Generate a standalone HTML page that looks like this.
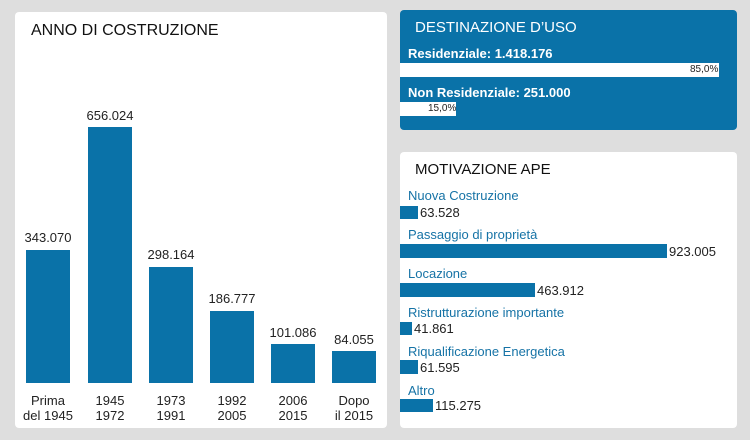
<!DOCTYPE html>
<html><head><meta charset="utf-8"><style>
body{margin:0;width:750px;height:440px;background:#dedede;position:relative;overflow:hidden;font-family:"Liberation Sans",sans-serif;}
.p{position:absolute;border-radius:4px;}
.t{position:absolute;white-space:nowrap;}
.b{position:absolute;background:#0a72a8;}
.v{position:absolute;font-size:13px;color:#222;text-align:center;width:70px;}
.c{position:absolute;font-size:13px;color:#222;text-align:center;width:70px;line-height:15px;top:393px;}
.l{position:absolute;left:408px;font-size:13px;color:#1673a6;}
.n{position:absolute;font-size:13px;color:#222;}
</style></head><body>
<div class="p" style="left:15px;top:12px;width:372px;height:416px;background:#fff"></div>
<div class="t" style="left:31px;top:22px;font-size:16px;color:#111">ANNO DI COSTRUZIONE</div>
<div class="b" style="left:26px;top:250px;width:44px;height:133px"></div>
<div class="b" style="left:88px;top:127px;width:44px;height:256px"></div>
<div class="b" style="left:149px;top:267px;width:44px;height:116px"></div>
<div class="b" style="left:210px;top:311px;width:44px;height:72px"></div>
<div class="b" style="left:271px;top:344px;width:44px;height:39px"></div>
<div class="b" style="left:332px;top:351px;width:44px;height:32px"></div>
<div class="v" style="left:13px;top:230px">343.070</div>
<div class="v" style="left:75px;top:108px">656.024</div>
<div class="v" style="left:136px;top:247px">298.164</div>
<div class="v" style="left:197px;top:291px">186.777</div>
<div class="v" style="left:258px;top:325px">101.086</div>
<div class="v" style="left:319px;top:332px">84.055</div>
<div class="c" style="left:13px">Prima<br>del 1945</div>
<div class="c" style="left:75px">1945<br>1972</div>
<div class="c" style="left:136px">1973<br>1991</div>
<div class="c" style="left:197px">1992<br>2005</div>
<div class="c" style="left:258px">2006<br>2015</div>
<div class="c" style="left:319px">Dopo<br>il 2015</div>

<div class="p" style="left:400px;top:10px;width:337px;height:120px;background:#0a72a8"></div>
<div class="t" style="left:415px;top:19px;font-size:15px;color:#fff">DESTINAZIONE D’USO</div>
<div class="t" style="left:408px;top:46px;font-size:13px;color:#fff;font-weight:bold">Residenziale: 1.418.176</div>
<div style="position:absolute;left:400px;top:63px;width:319px;height:14px;background:#fff"></div>
<div class="t" style="left:690px;top:64px;font-size:10px;color:#222">85,0%</div>
<div class="t" style="left:408px;top:85px;font-size:13px;color:#fff;font-weight:bold">Non Residenziale: 251.000</div>
<div style="position:absolute;left:400px;top:102px;width:56px;height:14px;background:#fff"></div>
<div class="t" style="left:428px;top:103px;font-size:10px;color:#222">15,0%</div>

<div class="p" style="left:400px;top:152px;width:337px;height:276px;background:#fff"></div>
<div class="t" style="left:415px;top:161px;font-size:15px;color:#111">MOTIVAZIONE APE</div>
<div class="l" style="top:188px">Nuova Costruzione</div>
<div class="b" style="left:400px;top:206px;width:18px;height:13px"></div><div class="n" style="left:420px;top:205px">63.528</div>
<div class="l" style="top:227px">Passaggio di proprietà</div>
<div class="b" style="left:400px;top:244px;width:267px;height:14px"></div><div class="n" style="left:669px;top:244px">923.005</div>
<div class="l" style="top:266px">Locazione</div>
<div class="b" style="left:400px;top:283px;width:135px;height:14px"></div><div class="n" style="left:537px;top:283px">463.912</div>
<div class="l" style="top:305px">Ristrutturazione importante</div>
<div class="b" style="left:400px;top:322px;width:12px;height:13px"></div><div class="n" style="left:414px;top:321px">41.861</div>
<div class="l" style="top:344px">Riqualificazione Energetica</div>
<div class="b" style="left:400px;top:360px;width:18px;height:14px"></div><div class="n" style="left:420px;top:360px">61.595</div>
<div class="l" style="top:383px">Altro</div>
<div class="b" style="left:400px;top:399px;width:33px;height:13px"></div><div class="n" style="left:435px;top:398px">115.275</div>
</body></html>
